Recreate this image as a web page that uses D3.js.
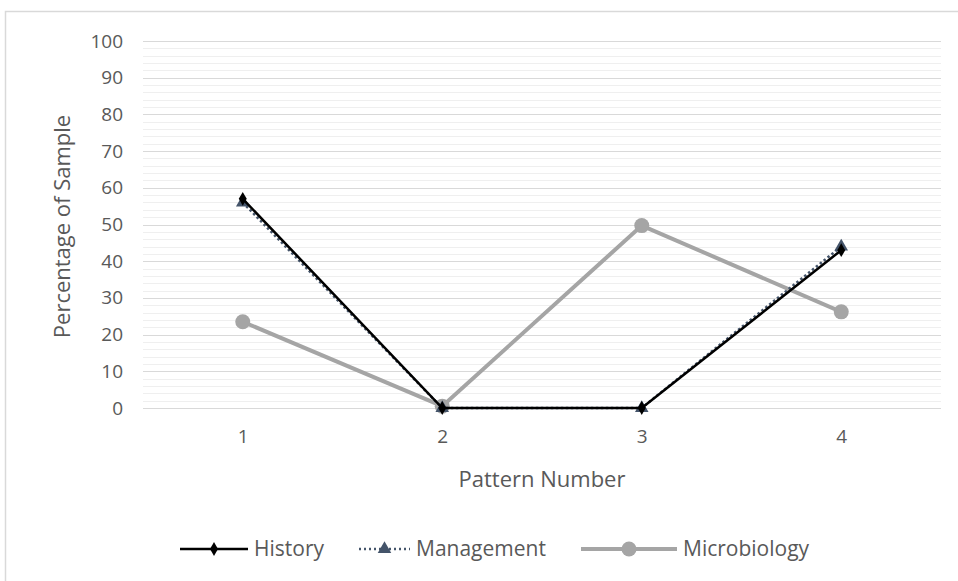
<!DOCTYPE html>
<html lang="en">
<head>
    <meta charset="UTF-8">
    <title>Patterns</title>
    <script src="https://d3js.org/d3.v7.min.js"></script>
    <style>
        body { margin: 0; background: #fff; }
        text { font-family: "Open Sans", sans-serif; fill: #595959; }
    </style>
</head>
<body>
    <div id="chart"></div>
    <script>
        const patterns = ["1", "2", "3", "4"];
        const history = [57, 0, 0, 43];
        const management = [56, 0, 0, 44];
        const microbiology = [23.5, 0.5, 49.7, 26.2];
        const yTicks = [0, 10, 20, 30, 40, 50, 60, 70, 80, 90, 100];

        const w = 958, h = 581;
        const plotLeft = 143, plotRight = 941, plotTop = 41, plotBottom = 408;

        const svg = d3.select("#chart").append("svg")
            .attr("width", w).attr("height", h);

        // chart frame
        svg.append("rect")
            .attr("x", 5.5).attr("y", 11.5)
            .attr("width", 960).attr("height", 580)
            .attr("fill", "none").attr("stroke", "#d9d9d9").attr("stroke-width", 1.5);

        const x = d3.scalePoint().domain(patterns).range([plotLeft, plotRight]).padding(0.5);
        const y = d3.scaleLinear().domain([0, 100]).range([plotBottom, plotTop]);

        // minor grid every 2
        svg.append("g").selectAll("line")
            .data(d3.range(0, 101, 2).filter(d => d % 10 !== 0))
            .join("line")
            .attr("x1", plotLeft).attr("x2", plotRight)
            .attr("y1", d => Math.round(y(d)) + 0.5).attr("y2", d => Math.round(y(d)) + 0.5)
            .attr("stroke", "#efefef");

        // major grid
        svg.append("g").selectAll("line")
            .data(yTicks)
            .join("line")
            .attr("x1", plotLeft).attr("x2", plotRight)
            .attr("y1", d => Math.round(y(d)) + 0.5).attr("y2", d => Math.round(y(d)) + 0.5)
            .attr("stroke", "#d9d9d9");

        const yAxis = svg.append("g")
            .attr("transform", `translate(${plotLeft - 20},0)`)
            .call(d3.axisLeft(y).tickValues(yTicks).tickSize(0).tickPadding(0));
        yAxis.select(".domain").remove();
        yAxis.selectAll("text").style("font-size", "19px");

        const xAxis = svg.append("g")
            .attr("transform", `translate(0,${plotBottom + 21})`)
            .call(d3.axisBottom(x).tickSize(0).tickPadding(0));
        xAxis.select(".domain").remove();
        xAxis.selectAll("text").style("font-size", "19px");

        svg.append("text")
            .attr("transform", `translate(70,${(plotTop + plotBottom) / 2 + 2}) rotate(-90)`)
            .attr("text-anchor", "middle")
            .style("font-size", "22px")
            .text("Percentage of Sample");

        svg.append("text")
            .attr("x", (plotLeft + plotRight) / 2).attr("y", 487)
            .attr("text-anchor", "middle")
            .style("font-size", "22px")
            .text("Pattern Number");

        const line = d3.line().x((d, i) => x(patterns[i])).y(d => y(d));

        // Microbiology
        svg.append("path").datum(microbiology)
            .attr("d", line).attr("fill", "none")
            .attr("stroke", "#a5a5a5").attr("stroke-width", 4);
        svg.append("g").selectAll("circle").data(microbiology).join("circle")
            .attr("cx", (d, i) => x(patterns[i])).attr("cy", d => y(d))
            .attr("r", 7.5).attr("fill", "#a5a5a5");

        // Management
        svg.append("path").datum(management)
            .attr("d", line).attr("fill", "none")
            .attr("stroke", "#44546a").attr("stroke-width", 2.5)
            .attr("stroke-dasharray", "2.5,2.5");
        const tri = d3.symbol().type(d3.symbolTriangle).size(80);
        svg.append("g").selectAll("path").data(management).join("path")
            .attr("d", tri)
            .attr("transform", (d, i) => `translate(${x(patterns[i])},${y(d)})`)
            .attr("fill", "#44546a");

        // History
        svg.append("path").datum(history)
            .attr("d", line).attr("fill", "none")
            .attr("stroke", "#000").attr("stroke-width", 2.5);
        const dia = d3.symbol().type(d3.symbolDiamond).size(55);
        svg.append("g").selectAll("path").data(history).join("path")
            .attr("d", dia)
            .attr("transform", (d, i) => `translate(${x(patterns[i])},${y(d)})`)
            .attr("fill", "#000");

        // legend
        const legendItems = [
            { name: "History", x: 180, len: 68, color: "#000", width: 2.5, dash: null, marker: "diamond" },
            { name: "Management", x: 359, len: 51, color: "#44546a", width: 2.5, dash: "2,3", marker: "triangle" },
            { name: "Microbiology", x: 581, len: 96, color: "#a5a5a5", width: 4, dash: null, marker: "circle" }
        ];
        const lg = svg.append("g").selectAll("g").data(legendItems).join("g")
            .attr("transform", d => `translate(${d.x},549)`);
        lg.append("line")
            .attr("x1", 0).attr("x2", d => d.len)
            .attr("stroke", d => d.color).attr("stroke-width", d => d.width)
            .attr("stroke-dasharray", d => d.dash);
        lg.filter(d => d.marker === "circle").append("circle")
            .attr("cx", d => d.len / 2).attr("r", 7.5).attr("fill", d => d.color);
        lg.filter(d => d.marker === "triangle").append("path")
            .attr("d", tri).attr("transform", d => `translate(${d.len / 2},0)`).attr("fill", d => d.color);
        lg.filter(d => d.marker === "diamond").append("path")
            .attr("d", dia).attr("transform", d => `translate(${d.len / 2},0)`).attr("fill", d => d.color);
        lg.append("text")
            .attr("x", d => d.len + 6)
            .attr("dy", "0.35em")
            .style("font-size", "21px")
            .text(d => d.name);
    </script>
</body>
</html>
